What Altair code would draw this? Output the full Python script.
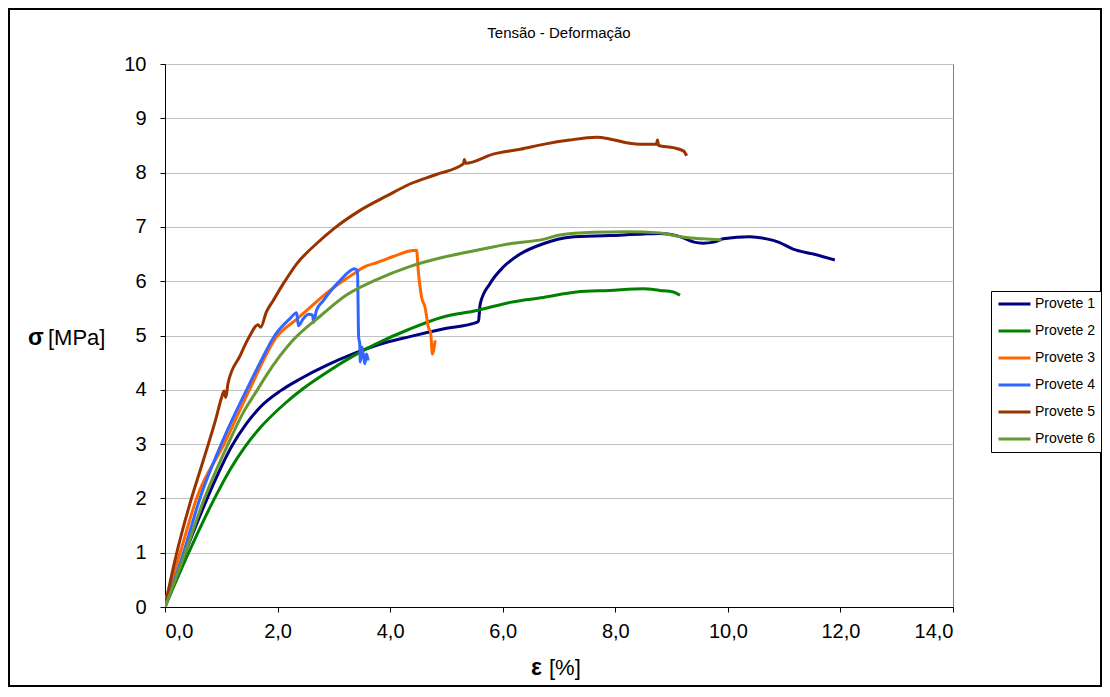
import altair as alt
import pandas as pd

series_names = ["Provete 1", "Provete 2", "Provete 3", "Provete 4", "Provete 5", "Provete 6"]
series_colors = ["#000080", "#008000", "#FF6600", "#3366FF", "#993300", "#669933"]
series_widths = [3, 3, 3, 3, 3, 2]

p1_x = [0, 0.36, 0.75, 0.92, 1.18, 1.45, 1.69, 2.05, 2.40, 2.87, 3.34, 3.76, 4.35, 4.94, 5.54, 5.57, 5.60,
        5.77, 6.01, 6.31, 6.72, 7.19, 7.90, 8.50, 8.79, 9.15, 9.40, 9.56, 9.75, 9.92, 10.39, 10.69, 10.90,
        11.16, 11.52, 11.90]
p1_y = [0, 1.0, 2.0, 2.4, 2.95, 3.38, 3.68, 3.98, 4.20, 4.45, 4.66, 4.82, 4.98, 5.12, 5.24, 5.27, 5.58,
        5.95, 6.26, 6.50, 6.69, 6.81, 6.84, 6.87, 6.88, 6.82, 6.72, 6.70, 6.72, 6.78, 6.82, 6.78, 6.72,
        6.59, 6.50, 6.39]

p2_x = [0, 0.42, 0.88, 1.15, 1.42, 1.69, 2.10, 2.45, 2.87, 3.34, 3.76, 4.35, 4.94, 5.54, 6.13, 6.72, 7.31,
        7.90, 8.50, 8.79, 9.03, 9.15]
p2_y = [0, 1.0, 2.0, 2.52, 2.95, 3.30, 3.72, 4.02, 4.32, 4.62, 4.85, 5.12, 5.34, 5.46, 5.61, 5.70, 5.80,
        5.83, 5.86, 5.83, 5.80, 5.74]

p3_x = [0, 0.27, 0.56, 1.05, 1.50, 1.98, 2.34, 2.69, 2.87, 3.34, 3.58, 3.76, 4.17, 4.32, 4.47, 4.50, 4.56,
        4.62, 4.68, 4.72, 4.75, 4.80]
p3_y = [0.1, 1.0, 2.0, 3.0, 4.0, 4.97, 5.30, 5.62, 5.78, 6.13, 6.28, 6.34, 6.50, 6.55, 6.57, 6.19, 5.70,
        5.52, 5.15, 5.05, 4.66, 4.91]

p4_x = [0, 0.33, 0.62, 1.00, 1.45, 1.69, 1.95, 2.22, 2.34, 2.37, 2.45, 2.55, 2.62, 2.64, 2.69, 2.81, 3.11,
        3.37, 3.42, 3.44, 3.46, 3.47, 3.50, 3.55, 3.58, 3.61]
p4_y = [0, 1.0, 2.0, 3.0, 4.0, 4.5, 5.0, 5.31, 5.42, 5.18, 5.30, 5.39, 5.38, 5.24, 5.46, 5.64, 6.01,
        6.23, 6.19, 4.97, 4.85, 4.51, 4.79, 4.48, 4.66, 4.54]

p5_x = [0, 0.10, 0.21, 0.47, 0.62, 0.77, 0.90, 1.01, 1.05, 1.08, 1.12, 1.33, 1.50, 1.65, 1.70, 1.80, 1.92,
        2.10, 2.34, 2.69, 2.99, 3.46, 3.94, 4.35, 4.83, 5.30, 5.32, 5.34, 5.83, 6.31, 6.72, 7.19, 7.67,
        7.90, 8.20, 8.50, 8.73, 8.75, 8.77, 9.03, 9.21, 9.27]
p5_y = [0, 0.5, 1.0, 2.0, 2.5, 3.0, 3.45, 3.87, 3.98, 3.86, 4.12, 4.62, 4.98, 5.20, 5.15, 5.43, 5.64,
        5.95, 6.32, 6.69, 6.96, 7.30, 7.57, 7.79, 7.97, 8.16, 8.24, 8.17, 8.34, 8.43, 8.52, 8.60, 8.65,
        8.62, 8.55, 8.52, 8.52, 8.60, 8.50, 8.46, 8.40, 8.31]

p6_x = [0, 0.36, 0.70, 1.12, 1.39, 1.63, 1.81, 2.28, 2.75, 3.23, 3.76, 4.32, 4.94, 5.54, 6.13, 6.72, 7.02,
        7.61, 8.20, 8.79, 9.15, 9.56, 9.89]
p6_y = [0, 1.0, 2.0, 3.0, 3.58, 3.98, 4.28, 4.92, 5.35, 5.75, 6.03, 6.26, 6.44, 6.57, 6.69, 6.77, 6.85,
        6.90, 6.91, 6.89, 6.82, 6.78, 6.76]

x_ticks = [0, 2, 4, 6, 8, 10, 12, 14]
y_ticks = [0, 1, 2, 3, 4, 5, 6, 7, 8, 9, 10]

chart_title = "Tensão - Deformação"
y_title_sym = "σ"
y_title_unit = "[MPa]"
x_title_sym = "ε"
x_title_unit = "[%]"

all_x = [p1_x, p2_x, p3_x, p4_x, p5_x, p6_x]
all_y = [p1_y, p2_y, p3_y, p4_y, p5_y, p6_y]

rows = []
for name, xs, ys in zip(series_names, all_x, all_y):
    for i, (a, b) in enumerate(zip(xs, ys)):
        rows.append({"serie": name, "eps": a, "sigma": b, "i": i})
df = pd.DataFrame(rows)
one = pd.DataFrame({"k": [0]})

FONT = "Liberation Sans"

legend = alt.Legend(
    title=None, orient="none", legendX=826, legendY=227,
    strokeColor="black", fillColor="white", padding=6,
    symbolType="stroke", symbolSize=1024, clipHeight=14, rowPadding=13,
    labelFont=FONT, labelFontSize=14, labelColor="black", labelOffset=3,
)

lines = alt.Chart(df).mark_line(clip=True, interpolate="monotone").encode(
    x=alt.X("eps:Q", scale=alt.Scale(domain=[0, 14], nice=False, zero=False),
            axis=alt.Axis(values=x_ticks, title=None, grid=False,
                          labelExpr="replace(format(datum.value, '.1f'), '.', ',')",
                          labelFont=FONT, labelFontSize=20, labelColor="black",
                          domainColor="black", tickColor="black", tickSize=5, labelPadding=9)),
    y=alt.Y("sigma:Q", scale=alt.Scale(domain=[0, 10], nice=False),
            axis=alt.Axis(values=y_ticks, format="d", title=None, grid=True,
                          gridColor="#C0C0C0", gridWidth=1,
                          labelFont=FONT, labelFontSize=20, labelColor="black",
                          domainColor="black", tickColor="black", tickSize=5, labelPadding=14)),
    color=alt.Color("serie:N", scale=alt.Scale(domain=series_names, range=series_colors), legend=legend),
    strokeWidth=alt.StrokeWidth("serie:N", scale=alt.Scale(domain=series_names, range=series_widths), legend=legend),
    order=alt.Order("i:Q"),
)

title_t = alt.Chart(one).mark_text(text=chart_title, font=FONT, fontSize=15, color="black",
                                   align="center", baseline="middle").encode(
    x=alt.value(394), y=alt.value(-31))

ys_t = alt.Chart(one).mark_text(text=y_title_sym, font=FONT, fontSize=23, fontWeight="bold", color="black",
                                align="left", baseline="middle").encode(x=alt.value(-137), y=alt.value(274))
yu_t = alt.Chart(one).mark_text(text=y_title_unit, font=FONT, fontSize=22, color="black",
                                align="left", baseline="middle").encode(x=alt.value(-117), y=alt.value(274))
xs_t = alt.Chart(one).mark_text(text=x_title_sym, font=FONT, fontSize=23, fontWeight="bold", color="black",
                                align="left", baseline="middle").encode(x=alt.value(366), y=alt.value(604))
xu_t = alt.Chart(one).mark_text(text=x_title_unit, font=FONT, fontSize=22, color="black",
                                align="left", baseline="middle").encode(x=alt.value(384), y=alt.value(604))

frame = alt.Chart(one).mark_rect(filled=False, stroke="black", strokeWidth=2).encode(
    x=alt.value(-156), x2=alt.value(936), y=alt.value(-55), y2=alt.value(622))

chart = alt.layer(lines, title_t, ys_t, yu_t, xs_t, xu_t, frame).properties(
    width=788, height=543,
    autosize=alt.AutoSizeParams(type="none"),
    padding={"left": 157, "top": 56, "right": 149, "bottom": 80},
    background="white",
).configure_view(stroke="#808080", strokeWidth=1)

chart.save("out.html", embed_options={"renderer": "svg", "actions": False})
